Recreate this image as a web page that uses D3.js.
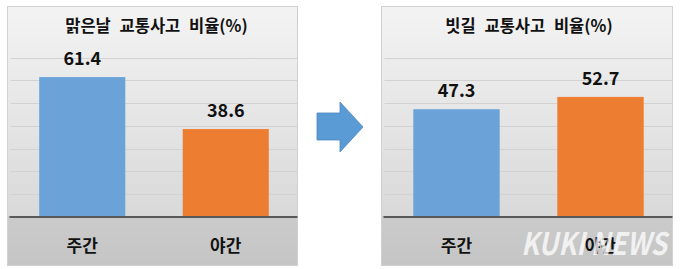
<!DOCTYPE html>
<html>
<head>
<meta charset="utf-8">
<script src="https://cdn.jsdelivr.net/npm/d3@7"></script>
<style>
  body { margin: 0; background: #fff; }
  svg { display: block; }
  text { font-family: "Noto Sans CJK KR", "Noto Sans", sans-serif; font-weight: bold; fill: #111; }
</style>
</head>
<body>
<div id="chart"></div>
<script>
// data
const categories = ["주간", "야간"];
const clearValues = [61.4, 38.6];
const rainValues = [47.3, 52.7];
const panelTitles = ["맑은날 교통사고 비율(%)", "빗길 교통사고 비율(%)"];
const gridTicks = [10, 20, 30, 40, 50, 60, 70];
const barColors = ["#6ba3d8", "#ed7d31"];

const width = 680;
const height = 269;
const svg = d3.select("#chart")
  .append("svg")
  .attr("width", width)
  .attr("height", height);

// background gradient for the panels
const defs = svg.append("defs");
const grad = defs.append("linearGradient")
  .attr("id", "panelGrad")
  .attr("x1", 0).attr("y1", 0).attr("x2", 0).attr("y2", 1);
grad.append("stop").attr("offset", "0%").attr("stop-color", "#f3f3f3");
grad.append("stop").attr("offset", "81%").attr("stop-color", "#d9d9d9");
grad.append("stop").attr("offset", "81%").attr("stop-color", "#cbcbcb");
grad.append("stop").attr("offset", "100%").attr("stop-color", "#c5c5c5");

const y = d3.scaleLinear().domain([0, 70]).range([217, 57.5]);

function drawPanel(px, pw, title, values, titleX) {
  const g = svg.append("g");

  g.append("rect")
    .attr("x", px).attr("y", 6.5)
    .attr("width", pw).attr("height", 259)
    .attr("fill", "url(#panelGrad)")
    .attr("stroke", "#d0d0d0");

  const x = d3.scaleBand()
    .domain(categories)
    .range([px + 3, px + pw])
    .paddingInner(0.4)
    .paddingOuter(0.2);

  // gridlines
  g.selectAll(".grid")
    .data(gridTicks)
    .enter()
    .append("line")
      .attr("x1", px + 3).attr("x2", px + pw)
      .attr("y1", d => Math.round(y(d)) + 0.5)
      .attr("y2", d => Math.round(y(d)) + 0.5)
      .attr("stroke", "#d2d2d2");

  // bars
  g.selectAll(".bar")
    .data(values)
    .enter()
    .append("rect")
      .attr("x", (d, i) => x(categories[i]))
      .attr("y", d => y(d))
      .attr("width", x.bandwidth())
      .attr("height", d => y(0) - y(d))
      .attr("fill", (d, i) => barColors[i]);

  // axis line
  g.append("line")
    .attr("x1", px + 2).attr("x2", px + pw)
    .attr("y1", y(0)).attr("y2", y(0))
    .attr("stroke", "#595959")
    .attr("stroke-width", 2);

  // value labels
  g.selectAll(".val")
    .data(values)
    .enter()
    .append("text")
      .attr("x", (d, i) => x(categories[i]) + x.bandwidth() / 2)
      .attr("y", d => y(d) - 20)
      .attr("text-anchor", "middle")
      .attr("dominant-baseline", "central")
      .attr("font-size", 18)
      .text(d => d.toFixed(1));

  // category labels
  g.selectAll(".cat")
    .data(categories)
    .enter()
    .append("text")
      .attr("class", "cat")
      .attr("x", d => x(d) + x.bandwidth() / 2)
      .attr("y", 244.5)
      .attr("text-anchor", "middle")
      .attr("dominant-baseline", "central")
      .attr("font-size", 17)
      .text(d => d);

  // title
  g.append("text")
    .attr("x", titleX)
    .attr("y", 25)
    .attr("text-anchor", "middle")
    .attr("dominant-baseline", "central")
    .attr("font-size", 16.5)
    .attr("word-spacing", 5)
    .text(title);
}

drawPanel(7.5, 290, panelTitles[0], clearValues, 156.5);
drawPanel(381.5, 291, panelTitles[1], rainValues, 529);

// arrow between panels
svg.append("path")
  .attr("d", "M317,113 L340,113 L340,102 L363,127 L340,152 L340,140 L317,140 Z")
  .attr("fill", "#5b9bd5")
  .attr("stroke", "#4a86c0")
  .attr("stroke-width", 0.8);

// watermark, drawn under the right category label
svg.append("text")
  .attr("x", 521)
  .attr("y", 255)
  .attr("font-family", "Liberation Sans, Arial, sans-serif")
  .attr("font-style", "italic")
  .attr("font-size", 31)
  .attr("textLength", 146)
  .attr("lengthAdjust", "spacingAndGlyphs")
  .style("fill", "#ffffff")
  .style("fill-opacity", 0.75)
  .text("KUKI NEWS");

svg.selectAll(".cat").filter(d => d === "야간").raise();
</script>
</body>
</html>
